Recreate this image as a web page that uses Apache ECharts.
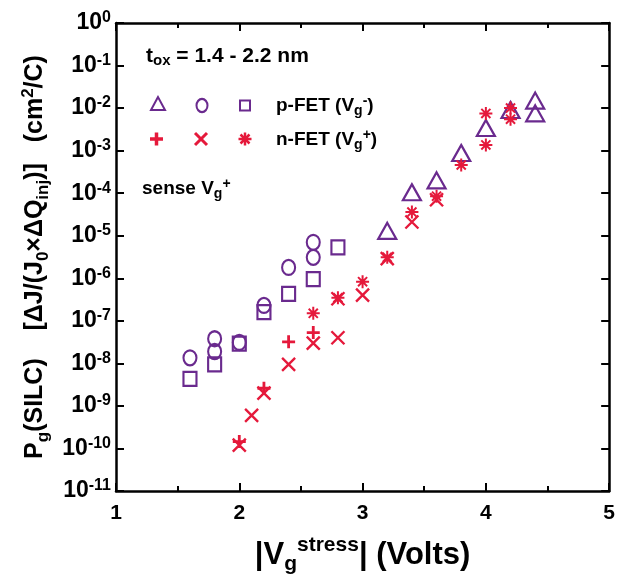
<!DOCTYPE html>
<html>
<head>
<meta charset="utf-8">
<script src="https://cdn.jsdelivr.net/npm/echarts@6/dist/echarts.min.js"></script>
<style>html,body{margin:0;padding:0;background:#fff;}#c{width:618px;height:584px;}</style>
</head>
<body>
<div id="c"></div>
<script>
// ---- data ----
const xTicks = [1, 2, 3, 4, 5];
const yExponents = [0, -1, -2, -3, -4, -5, -6, -7, -8, -9, -10, -11];

// p-FET (Vg-) : triangles, circles, squares
const pTriX = [3.2, 3.4, 3.6, 3.8, 4.0, 4.2, 4.4, 4.4];
const pTriY = [1.3e-5, 1.05e-4, 2.0e-4, 8.8e-4, 3.4e-3, 9.0e-3, 1.5e-2, 7.5e-3];

const pCircX = [1.6, 1.8, 1.8, 2.0, 2.2, 2.4, 2.6, 2.6];
const pCircY = [1.35e-8, 3.8e-8, 1.9e-8, 3.1e-8, 2.3e-7, 1.8e-6, 7.0e-6, 3.1e-6];

const pSqX = [1.6, 1.8, 2.0, 2.2, 2.4, 2.6, 2.8];
const pSqY = [4.3e-9, 9.5e-9, 2.9e-8, 1.6e-7, 4.3e-7, 9.5e-7, 5.3e-6];

// n-FET (Vg+) : plus, cross, asterisk
const nPlusX = [2.0, 2.2, 2.4, 2.6];
const nPlusY = [1.45e-10, 2.6e-9, 3.2e-8, 5.3e-8];

const nCrossX = [2.0, 2.1, 2.2, 2.4, 2.6, 2.8, 2.8, 3.0, 3.2, 3.4, 3.6];
const nCrossY = [1.2e-10, 6.0e-10, 2.0e-9, 9.5e-9, 3.0e-8, 4.0e-8, 3.3e-7, 4.0e-7, 2.9e-6, 2.1e-5, 7.0e-5];

const nStarX = [2.6, 2.8, 3.0, 3.2, 3.4, 3.6, 3.8, 4.0, 4.0, 4.2, 4.2];
const nStarY = [1.5e-7, 3.5e-7, 8.3e-7, 3.1e-6, 3.6e-5, 8.5e-5, 4.6e-4, 7.5e-3, 1.36e-3, 1.0e-2, 5.5e-3];

// ---- styling ----
const PURPLE = '#6a2a8e';
const RED = '#e5193b';
const FONT = 'Liberation Sans, Arial, sans-serif';

const pairs = (xs, ys) => xs.map((x, i) => [x, ys[i]]);

const PLUS = 'path://M0,5 L10,5 M5,0 L5,10';
const CROSS = 'path://M0,0 L10,10 M10,0 L0,10';
const STAR = 'path://M0,5 L10,5 M5,0 L5,10 M1.5,1.5 L8.5,8.5 M8.5,1.5 L1.5,8.5';
const ELLIPSE = 'path://M6,0 C9.3,0 12,3.1 12,7 C12,10.9 9.3,14 6,14 C2.7,14 0,10.9 0,7 C0,3.1 2.7,0 6,0 Z';

function sc(name, data, symbol, size, color, bw) {
  return {
    name: name, type: 'scatter', data: data, symbol: symbol, symbolSize: size,
    xAxisIndex: 0, yAxisIndex: 0,
    itemStyle: { color: 'rgba(0,0,0,0)', borderColor: color, borderWidth: bw, opacity: 1 },
    emphasis: { disabled: true }, silent: true, z: 3
  };
}

const bold = (size, extra) => Object.assign({ fontSize: size, fontWeight: 'bold', fontFamily: FONT, color: '#000' }, extra || {});

const textRich = {
  a: bold(19, { verticalAlign: 'middle', lineHeight: 24 }),
  sub: bold(14, { verticalAlign: 'bottom', lineHeight: 13 }),
  sup: bold(14, { verticalAlign: 'top', lineHeight: 13 })
};
const toxRich = {
  a: bold(21, { verticalAlign: 'middle', lineHeight: 24 }),
  sub: bold(15, { verticalAlign: 'bottom', lineHeight: 13 })
};

function seg(x1, y1, x2, y2, color, w) {
  return { type: 'line', shape: { x1: x1, y1: y1, x2: x2, y2: y2 }, style: { stroke: color, lineWidth: w }, silent: true };
}

const chart = echarts.init(document.getElementById('c'), null, { renderer: 'canvas' });

const axisCommon = {
  axisLine: { show: true, onZero: false, lineStyle: { color: '#000', width: 2.5 } },
  splitLine: { show: false }
};

const option = {
  animation: false,
  backgroundColor: '#fff',
  grid: { left: 116, right: 8, top: 23, bottom: 93, containLabel: false },
  xAxis: [
    Object.assign({
      type: 'value', min: xTicks[0], max: xTicks[xTicks.length - 1], interval: 1,
      position: 'bottom',
      axisTick: { show: true, inside: true, length: 8, lineStyle: { color: '#000', width: 2 } },
      minorTick: { show: true, splitNumber: 2, length: 5, lineStyle: { color: '#000', width: 2 } },
      axisLabel: { show: true, margin: 12, fontSize: 21, fontWeight: 'bold', fontFamily: FONT, color: '#000' },
      name: '{a||V}{sub|g}{sup|stress}{a|| (Volts)}',
      nameLocation: 'middle', nameGap: 44,
      nameTextStyle: {
        rich: {
          a: bold(31, { verticalAlign: 'middle', lineHeight: 40 }),
          sub: bold(21, { verticalAlign: 'bottom', lineHeight: 20 }),
          sup: bold(21, { verticalAlign: 'top', lineHeight: 20 })
        }
      }
    }, axisCommon),
    Object.assign({
      type: 'value', min: xTicks[0], max: xTicks[xTicks.length - 1], interval: 1,
      position: 'top',
      axisTick: { show: true, inside: true, length: 8, lineStyle: { color: '#000', width: 2 } },
      minorTick: { show: true, splitNumber: 2, length: 5, lineStyle: { color: '#000', width: 2 } },
      axisLabel: { show: false }
    }, axisCommon)
  ],
  yAxis: [
    Object.assign({
      type: 'log', logBase: 10, min: Math.pow(10, yExponents[yExponents.length - 1]), max: Math.pow(10, yExponents[0]),
      interval: 1, splitNumber: 11,
      position: 'left',
      axisTick: { show: true, inside: true, length: 8, lineStyle: { color: '#000', width: 2 } },
      minorTick: { show: false },
      axisLabel: {
        show: true, interval: 0, margin: 5,
        formatter: function (v) { return '{b|10}{s|' + Math.round(Math.log10(v)) + '}'; },
        rich: {
          b: bold(23, { verticalAlign: 'middle', lineHeight: 26 }),
          s: bold(16, { verticalAlign: 'top', lineHeight: 15 })
        }
      },
      name: '{a|P}{sub|g}{a|(SILC)    [ΔJ/(J}{sub|0}{a|×ΔQ}{sub|inj}{a|)]   (cm}{sup|2}{a|/C)}',
      nameLocation: 'middle', nameGap: 64, nameRotate: 90,
      nameTextStyle: {
        rich: {
          a: bold(25, { verticalAlign: 'middle', lineHeight: 32 }),
          sub: bold(17, { verticalAlign: 'bottom', lineHeight: 16 }),
          sup: bold(17, { verticalAlign: 'top', lineHeight: 16 })
        }
      }
    }, axisCommon),
    Object.assign({
      type: 'log', logBase: 10, min: Math.pow(10, yExponents[yExponents.length - 1]), max: Math.pow(10, yExponents[0]),
      interval: 1, splitNumber: 11,
      position: 'right',
      axisTick: { show: true, inside: true, length: 8, lineStyle: { color: '#000', width: 2 } },
      axisLabel: { show: false }
    }, axisCommon)
  ],
  title: [
    { left: 146, top: 44, padding: 0, text: '{a|t}{sub|ox}{a| = 1.4 - 2.2 nm}', textStyle: { rich: toxRich } },
    { left: 276, top: 94, padding: 0, text: '{a|p-FET (V}{sub|g}{sup|-}{a|)}', textStyle: { rich: textRich } },
    { left: 276, top: 128, padding: 0, text: '{a|n-FET (V}{sub|g}{sup|+}{a|)}', textStyle: { rich: textRich } },
    { left: 142, top: 177, padding: 0, text: '{a|sense V}{sub|g}{sup|+}', textStyle: { rich: textRich } }
  ],
  graphic: [
    { type: 'polygon', shape: { points: [[158, 97], [151, 110], [165, 110]] }, style: { fill: 'none', stroke: PURPLE, lineWidth: 2 }, silent: true },
    { type: 'circle', x: 202, y: 105.5, scaleY: 1.2, shape: { cx: 0, cy: 0, r: 5.5 }, style: { fill: 'none', stroke: PURPLE, lineWidth: 2 }, silent: true },
    { type: 'rect', shape: { x: 240, y: 100.5, width: 10, height: 10 }, style: { fill: 'none', stroke: PURPLE, lineWidth: 2 }, silent: true },
    seg(150, 139, 163, 139, RED, 3.5), seg(156.5, 132.5, 156.5, 145.5, RED, 3.5),
    seg(195, 133, 207, 145, RED, 3), seg(207, 133, 195, 145, RED, 3),
    seg(238.5, 139, 251.5, 139, RED, 2.5), seg(245, 132.5, 245, 145.5, RED, 2.5),
    seg(240.5, 134.5, 249.5, 143.5, RED, 2.5), seg(249.5, 134.5, 240.5, 143.5, RED, 2.5)
  ],
  series: [
    sc('pTri', pairs(pTriX, pTriY), 'triangle', [18, 16], PURPLE, 2.2),
    sc('pCirc', pairs(pCircX, pCircY), ELLIPSE, [13, 15], PURPLE, 2.2),
    sc('pSq', pairs(pSqX, pSqY), 'rect', [13, 14], PURPLE, 2.2),
    sc('nPlus', pairs(nPlusX, nPlusY), PLUS, 13, RED, 2.8),
    sc('nCross', pairs(nCrossX, nCrossY), CROSS, 13, RED, 2.4),
    sc('nStar', pairs(nStarX, nStarY), STAR, 13, RED, 2)
  ]
};
chart.setOption(option);
</script>
</body>
</html>
